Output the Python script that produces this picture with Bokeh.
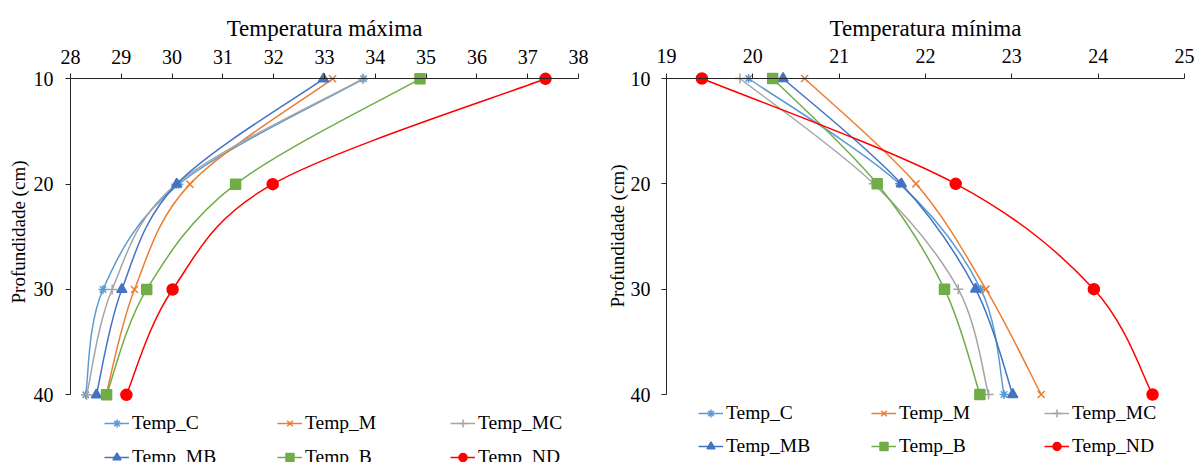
from bokeh.plotting import figure
from bokeh.models import Range1d, FixedTicker, Legend, LegendItem, LinearAxis, Title
from bokeh.layouts import row
from bokeh.embed import file_html
from bokeh.resources import INLINE

# ---------------- data ----------------
depth = [10, 20, 30, 40]
series = ["Temp_C", "Temp_M", "Temp_MC", "Temp_MB", "Temp_B", "Temp_ND"]

tmax_C = [33.77, 30.13, 28.64, 28.30]
tmax_M = [33.16, 30.35, 29.26, 28.70]
tmax_MC = [33.75, 30.08, 28.82, 28.32]
tmax_MB = [32.98, 30.09, 29.01, 28.51]
tmax_B = [34.88, 31.25, 29.50, 28.71]
tmax_ND = [37.35, 31.98, 30.01, 29.10]

tmin_C = [19.95, 21.70, 22.64, 22.91]
tmin_M = [20.60, 21.89, 22.70, 23.34]
tmin_MC = [19.85, 21.40, 22.38, 22.73]
tmin_MB = [20.35, 21.72, 22.58, 23.01]
tmin_B = [20.23, 21.44, 22.22, 22.63]
tmin_ND = [19.41, 22.35, 23.95, 24.63]

xticks_max = list(range(28, 39))
xticks_min = list(range(19, 26))
yticks = [10, 20, 30, 40]
y_title = "Profundidade (cm)"

# ---------------- style ----------------
colors = ["#5B9BD5", "#ED7D31", "#A5A5A5", "#4472C4", "#70AD47", "#FF0000"]
markers = ["asterisk", "x", "cross", "triangle", "square", "circle"]
msizes = [9, 10, 10, 10, 10, 11]
filled = [False, False, False, True, True, True]
FONT = "Liberation Serif"
AXC = "#262626"


def smooth(xs, ys):
    """Excel-like smoothed line: cubic Bezier segments (Catmull-Rom control points)."""
    n = len(xs)
    P = list(zip(xs, ys))
    out = {k: [] for k in ("x0", "y0", "x1", "y1", "cx0", "cy0", "cx1", "cy1")}
    for i in range(n - 1):
        pm = P[i - 1] if i > 0 else P[i]
        p0 = P[i]
        p1 = P[i + 1]
        p2 = P[i + 2] if i + 2 < n else P[i + 1]
        out["x0"].append(p0[0]); out["y0"].append(p0[1])
        out["x1"].append(p1[0]); out["y1"].append(p1[1])
        out["cx0"].append(p0[0] + (p1[0] - pm[0]) / 6.0)
        out["cy0"].append(p0[1] + (p1[1] - pm[1]) / 6.0)
        out["cx1"].append(p1[0] - (p2[0] - p0[0]) / 6.0)
        out["cy1"].append(p1[1] - (p2[1] - p0[1]) / 6.0)
    return out


def make(title, data, xticks, width, height, bl, bt, fw, padx, pad_top, plot_h,
         xlab_standoff, ylab_offset, ytitle_offset, ytitle_standoff, title_standoff,
         leg_loc, leg_item_h, leg_spacing):
    fh = height - bt                      # frame reaches the bottom edge (room for legend)
    xa, xb = xticks[0], xticks[-1]
    ya, yb = yticks[0], yticks[-1]
    ppx = (fw - 2 * padx) / (xb - xa)
    ppy = plot_h / (yb - ya)
    pad_bot = fh - pad_top - plot_h
    p = figure(width=width, height=height, frame_width=fw, frame_height=fh,
               min_border_left=bl, min_border_top=bt,
               min_border_right=width - bl - fw, min_border_bottom=0,
               x_range=Range1d(xa - padx / ppx, xb + padx / ppx),
               y_range=Range1d(yb + pad_bot / ppy, ya - pad_top / ppy),
               x_axis_location="above", y_axis_location="left",
               output_backend="svg", toolbar_location=None)
    p.grid.visible = False
    p.outline_line_color = None
    p.background_fill_color = "white"
    p.border_fill_color = "white"

    p.title.text = title
    p.title.align = "center"
    p.title.text_font = FONT
    p.title.text_font_size = "23px"
    p.title.text_font_style = "normal"
    p.title.text_color = "#000000"
    p.title.standoff = title_standoff

    # label-only axes at the frame edges
    xl = p.xaxis[0]
    yl = p.yaxis[0]
    for ax in (xl, yl):
        ax.axis_line_color = None
        ax.major_tick_line_color = None
        ax.minor_tick_line_color = None
        ax.major_tick_in = 0
        ax.major_tick_out = 0
        ax.major_label_text_font = FONT
        ax.major_label_text_font_size = "20px"
        ax.major_label_text_color = "#000000"
    xl.ticker = FixedTicker(ticks=xticks)
    xl.major_label_standoff = xlab_standoff
    yl.ticker = FixedTicker(ticks=yticks)
    yl.major_label_standoff = ylab_offset

    # line + tick axes crossing at (first x tick, 10 cm)
    xr = LinearAxis(ticker=FixedTicker(ticks=xticks), fixed_location=ya, bounds=(xa, xb))
    yr = LinearAxis(ticker=FixedTicker(ticks=yticks), fixed_location=xa, bounds=(ya, yb))
    for ax in (xr, yr):
        ax.axis_line_color = AXC
        ax.axis_line_width = 1
        ax.major_tick_line_color = AXC
        ax.major_tick_in = 0
        ax.major_tick_out = 5
        ax.minor_tick_line_color = None
        ax.major_label_text_font_size = "1px"
        ax.major_label_text_alpha = 0
        ax.major_label_standoff = 0
    p.add_layout(xr, "above")
    p.add_layout(yr, "left")

    # vertical axis title, placed along the 10-40 cm span
    yt = Title(text=y_title, align="left", offset=ytitle_offset, standoff=ytitle_standoff,
               text_font=FONT, text_font_size="19px", text_font_style="normal",
               text_color="#000000")
    p.add_layout(yt, "left")

    items = []
    for name, col, mk, ms, fl, xs in zip(series, colors, markers, msizes, filled, data):
        b = smooth(xs, depth)
        lr = p.bezier(x0=b["x0"], y0=b["y0"], x1=b["x1"], y1=b["y1"],
                      cx0=b["cx0"], cy0=b["cy0"], cx1=b["cx1"], cy1=b["cy1"],
                      line_color=col, line_width=1.5)
        sr = p.scatter(x=xs, y=depth, marker=mk, size=ms, line_color=col,
                       line_width=1.5, fill_color=col if fl else None)
        items.append(LegendItem(label=name, renderers=[lr, sr]))

    leg = Legend(items=items, location=leg_loc, orientation="horizontal", ncols=3,
                 glyph_width=25, glyph_height=leg_item_h, label_height=leg_item_h,
                 label_width=173 - 25 - 3 - leg_spacing, label_standoff=3,
                 spacing=leg_spacing, padding=0, margin=0,
                 border_line_color=None, background_fill_alpha=0,
                 label_text_font=FONT, label_text_font_size="19.5px",
                 label_text_color="#000000")
    p.add_layout(leg)
    return p


p1 = make("Temperatura máxima",
          [tmax_C, tmax_M, tmax_MC, tmax_MB, tmax_B, tmax_ND], xticks_max,
          width=598, height=462, bl=62, bt=70, fw=524, padx=8, pad_top=8.3, plot_h=316,
          xlab_standoff=7, ylab_offset=9, ytitle_offset=159, ytitle_standoff=4,
          title_standoff=12,
          leg_loc=(42, -6), leg_item_h=20, leg_spacing=12)
p2 = make("Temperatura mínima",
          [tmin_C, tmin_M, tmin_MC, tmin_MB, tmin_B, tmin_ND], xticks_min,
          width=599, height=462, bl=60, bt=68, fw=534, padx=8, pad_top=8, plot_h=316,
          xlab_standoff=8, ylab_offset=8, ytitle_offset=157, ytitle_standoff=0,
          title_standoff=10,
          leg_loc=(40, 4), leg_item_h=20, leg_spacing=11)

layout = row(p1, p2)
open("out.html", "w").write(file_html(layout, INLINE))
